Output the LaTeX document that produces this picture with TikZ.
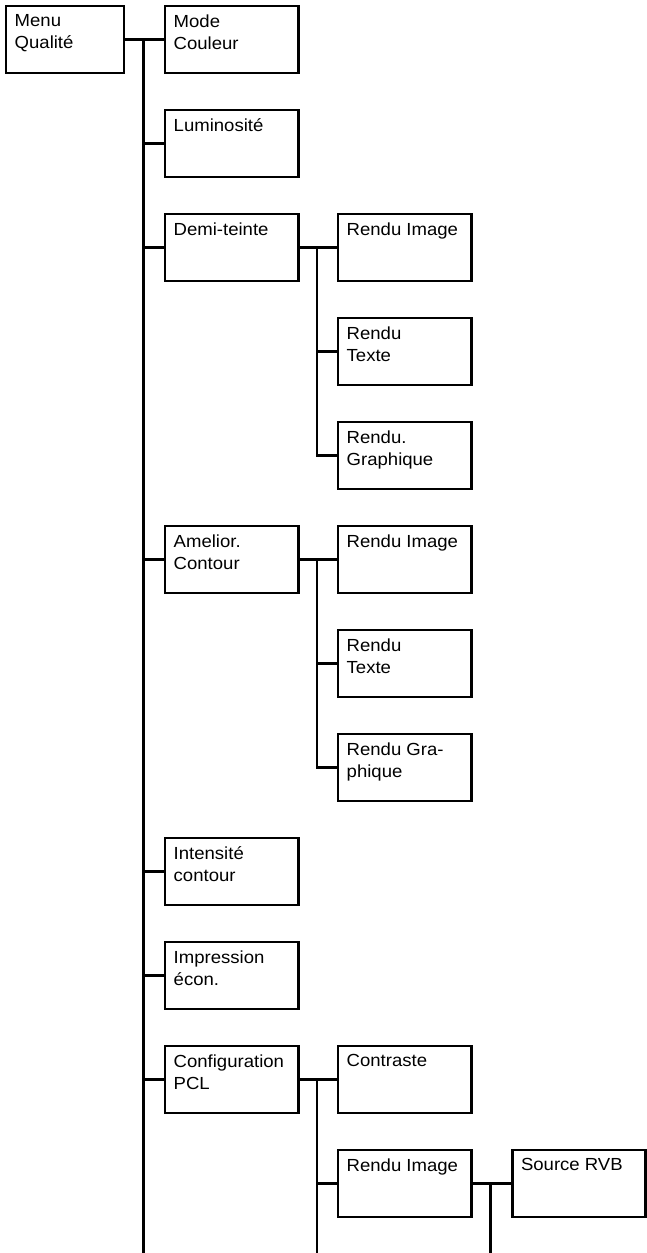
\documentclass[tikz,border=0pt]{standalone}
\usepackage{fontspec}
\setmainfont{Liberation Sans}[FakeStretch=1.06]
\begin{document}
\begin{tikzpicture}[x=1pt,y=-1pt,
  box/.style={draw, line width=2.8pt, minimum width=133.5pt, minimum height=67pt, anchor=north west, inner sep=0pt},
  smallbox/.style={box, minimum width=118pt},
  txt/.style={anchor=north west, inner sep=0pt, align=left, font=\fontsize{17.5}{21.7}\selectfont},
  conn/.style={line width=2.8pt}]
\useasboundingbox (0,0) rectangle (647,1253);
% column 1
\node[smallbox] (mq) at (4.5,4.5) {};
\node[txt] (tmq) at (14.5,14.5) {Menu\\Qualité};
% column 2
\node[box] (mc) at (163.5,4.5) {};
\node[txt] (tmc) at (173.5,14.5) {Mode\\Couleur};
\node[box] (lu) at (163.5,108.5) {};
\node[txt] (tlu) at (173.5,118.5) {Luminosité};
\node[box] (dt) at (163.5,212.5) {};
\node[txt] (tdt) at (173.5,222.5) {Demi-teinte};
\node[box] (ac) at (163.5,524.5) {};
\node[txt] (tac) at (173.5,534.5) {Amelior.\\Contour};
\node[box] (ic) at (163.5,836.5) {};
\node[txt] (tic) at (173.5,846.5) {Intensité\\contour};
\node[box] (ie) at (163.5,940.5) {};
\node[txt] (tie) at (173.5,950.5) {Impression\\écon.};
\node[box] (cp) at (163.5,1044.5) {};
\node[txt] (tcp) at (173.5,1054.5) {Configuration\\PCL};
% column 3
\node[box] (ri1) at (336.5,212.5) {};
\node[txt] (tri1) at (346.5,222.5) {Rendu Image};
\node[box] (rt1) at (336.5,316.5) {};
\node[txt] (trt1) at (346.5,326.5) {Rendu\\Texte};
\node[box] (rg1) at (336.5,420.5) {};
\node[txt] (trg1) at (346.5,430.5) {Rendu.\\Graphique};
\node[box] (ri2) at (336.5,524.5) {};
\node[txt] (tri2) at (346.5,534.5) {Rendu Image};
\node[box] (rt2) at (336.5,628.5) {};
\node[txt] (trt2) at (346.5,638.5) {Rendu\\Texte};
\node[box] (rg2) at (336.5,732.5) {};
\node[txt] (trg2) at (346.5,742.5) {Rendu Gra-\\phique};
\node[box] (co) at (336.5,1044.5) {};
\node[txt] (tco) at (346.5,1054.5) {Contraste};
\node[box] (ri3) at (336.5,1148.5) {};
\node[txt] (tri3) at (346.5,1158.5) {Rendu Image};
% column 4
\node[box] (sr) at (510.8,1148.5) {};
\node[txt] (tsr) at (520.8,1158.5) {Source RVB};
% connector coordinates
\coordinate (v1) at (143.5,38);
\coordinate (v1b) at (143.5,1253);
\coordinate (v2) at (317,0);
\coordinate (v2b) at (317,1253);
\coordinate (v3) at (490.7,0);
\coordinate (v3b) at (490.7,1253);
% main tree
\draw[conn] (mq.east) -- (mc.west);
\draw[conn] (v1) -- (v1b);
\foreach \n in {lu,dt,ac,ic,ie,cp} \draw[conn] (v1 |- \n.west) -- (\n.west);
% Demi-teinte
\draw[conn] (dt.east) -- (ri1.west);
\draw[conn] (v2 |- ri1.west) |- (rg1.west);
\draw[conn] (v2 |- rt1.west) -- (rt1.west);
% Amelior. Contour
\draw[conn] (ac.east) -- (ri2.west);
\draw[conn] (v2 |- ri2.west) |- (rg2.west);
\draw[conn] (v2 |- rt2.west) -- (rt2.west);
% Configuration PCL
\draw[conn] (cp.east) -- (co.west);
\draw[conn] (v2 |- co.west) -- (v2b);
\draw[conn] (v2 |- ri3.west) -- (ri3.west);
% Rendu Image -> Source RVB
\draw[conn] (ri3.east) -- (sr.west);
\draw[conn] (v3 |- sr.west) -- (v3b);
\end{tikzpicture}
\end{document}
